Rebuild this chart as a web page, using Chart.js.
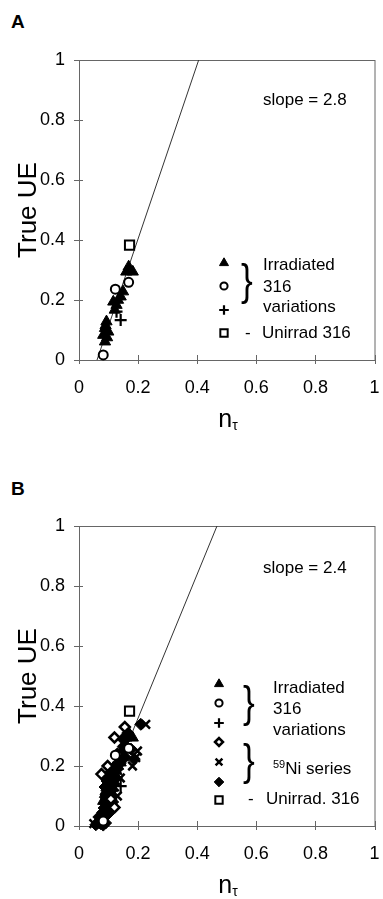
<!DOCTYPE html>
<html>
<head>
<meta charset="utf-8">
<script src="https://cdn.jsdelivr.net/npm/chart.js@4"></script>
<style>
body { margin: 0; background: #fff; font-family: "Liberation Sans", Arial, sans-serif; color: #000; }
#page { position: relative; width: 383px; height: 899px; overflow: hidden; }
canvas { position: absolute; left: 0; }
.t { position: absolute; white-space: nowrap; font-size: 17px; line-height: 17px; }
.lab { position: absolute; font-weight: bold; font-size: 19px; line-height: 19px; }
.brace { position: absolute; font-size: 44px; line-height: 44px; transform: scaleX(0.8); transform-origin: left top; }
.nt { position: absolute; width: 100px; text-align: center; font-size: 25px; line-height: 25px; }
.nt sub { font-size: 14px; vertical-align: -3px; }
sup { font-size: 11px; vertical-align: 6px; }
</style>
</head>
<body>
<div id="page">
  <div class="lab" style="left:11px; top:12px;">A</div>
  <canvas id="chartA" width="383" height="433" style="top:0;"></canvas>
  <div class="t" style="left:263px; top:91px;">slope = 2.8</div>
  <div class="brace" style="left:241px; top:258px;">}</div>
  <div class="t" style="left:263px; top:256px;">Irradiated</div>
  <div class="t" style="left:263px; top:278px;">316</div>
  <div class="t" style="left:263px; top:298px;">variations</div>
  <div class="t" style="left:245px; top:324px;">-</div>
  <div class="t" style="left:262px; top:324px;">Unirrad 316</div>
  <div class="nt" style="left:178px; top:406px;">n<sub>τ</sub></div>

  <div class="lab" style="left:11px; top:479px;">B</div>
  <canvas id="chartB" width="383" height="433" style="top:466px;"></canvas>
  <div class="t" style="left:263px; top:559px;">slope = 2.4</div>
  <div class="brace" style="left:243px; top:680px;">}</div>
  <div class="brace" style="left:243px; top:738px;">}</div>
  <div class="t" style="left:273px; top:679px;">Irradiated</div>
  <div class="t" style="left:273px; top:700px;">316</div>
  <div class="t" style="left:273px; top:721px;">variations</div>
  <div class="t" style="left:273px; top:756px;"><sup>59</sup>Ni series</div>
  <div class="t" style="left:248px; top:790px;">-</div>
  <div class="t" style="left:266px; top:790px;">Unirrad. 316</div>
  <div class="nt" style="left:178px; top:872px;">n<sub>τ</sub></div>
</div>
<script>
// axis ticks (both panels)
const tickValues = [0, 0.2, 0.4, 0.6, 0.8, 1];
const tickLabels = ['0', '0.2', '0.4', '0.6', '0.8', '1'];

// irradiated 316 variations + unirradiated 316 (n_tau, true UE)
const triX = [0.168, 0.182, 0.160, 0.149, 0.141, 0.132, 0.116, 0.127, 0.121, 0.093, 0.090, 0.088, 0.099, 0.095, 0.082, 0.088];
const triY = [0.311, 0.294, 0.294, 0.228, 0.211, 0.200, 0.194, 0.183, 0.167, 0.128, 0.115, 0.106, 0.094, 0.075, 0.083, 0.061];
const circX = [0.168, 0.123, 0.082];
const circY = [0.259, 0.236, 0.017];
const plusX = [0.141, 0.127];
const plusY = [0.133, 0.161];
const unirrX = [0.171];
const unirrY = [0.383];

// 59Ni series (panel B only)
const niOpenX = [0.155, 0.120, 0.076, 0.120, 0.108, 0.130, 0.097, 0.078];
const niOpenY = [0.330, 0.295, 0.173, 0.062, 0.090, 0.240, 0.200, 0.020];
const niCrossX = [0.226, 0.198, 0.192, 0.181, 0.160, 0.140, 0.120, 0.050, 0.065, 0.080, 0.105, 0.130];
const niCrossY = [0.339, 0.250, 0.228, 0.200, 0.280, 0.160, 0.130, 0.008, 0.005, 0.010, 0.060, 0.100];
const niFillX = [0.209, 0.187, 0.176, 0.165, 0.158, 0.150, 0.143, 0.135, 0.128, 0.122, 0.116, 0.110, 0.104, 0.100, 0.096, 0.092, 0.088, 0.085, 0.080, 0.075, 0.070, 0.063, 0.057, 0.090, 0.082, 0.112, 0.118, 0.105, 0.125, 0.095, 0.100, 0.108, 0.130, 0.140, 0.155, 0.088, 0.093, 0.103, 0.114, 0.073, 0.067, 0.098, 0.148];
const niFillY = [0.339, 0.223, 0.256, 0.310, 0.290, 0.265, 0.245, 0.225, 0.205, 0.185, 0.165, 0.150, 0.135, 0.120, 0.105, 0.090, 0.075, 0.060, 0.045, 0.030, 0.018, 0.010, 0.004, 0.010, 0.003, 0.120, 0.140, 0.100, 0.160, 0.150, 0.170, 0.180, 0.190, 0.210, 0.230, 0.130, 0.160, 0.060, 0.080, 0.008, 0.030, 0.040, 0.290];

// fitted lines, end points
const fitAX = [0.061, 0.405];
const fitAY = [0, 1];
const fitBX = [0.050, 0.467];
const fitBY = [0, 1];

const FONT = '"Liberation Sans", Arial, sans-serif';

function pts(xs, ys) {
  return xs.map((x, i) => ({x: x, y: ys[i]}));
}

const styles = {
  square:  {pointStyle: 'rect', pointRadius: 6.5, backgroundColor: '#fff', borderColor: '#000', borderWidth: 2},
  circle:  {pointStyle: 'circle', pointRadius: 4.5, backgroundColor: '#fff', borderColor: '#000', borderWidth: 2},
  diamond: {pointStyle: 'rectRot', pointRadius: 5, backgroundColor: '#fff', borderColor: '#000', borderWidth: 2.5},
  plus:    {pointStyle: 'cross', pointRadius: 6, backgroundColor: '#000', borderColor: '#000', borderWidth: 2.2},
  cross:   {pointStyle: 'crossRot', pointRadius: 6, backgroundColor: '#000', borderColor: '#000', borderWidth: 2.5},
  tri:     {pointStyle: 'triangle', pointRadius: 6.5, backgroundColor: '#000', borderColor: '#000', borderWidth: 1},
  fill:    {pointStyle: 'rectRot', pointRadius: 6, backgroundColor: '#000', borderColor: '#000', borderWidth: 1}
};

function markerSet(label, style, data) {
  return Object.assign({label: label, data: data, clip: false, pointHoverRadius: 0}, styles[style]);
}

function fitSet(xs, ys) {
  return {label: 'fit', data: pts(xs, ys), showLine: true, borderColor: '#333', borderWidth: 1,
          pointRadius: 0, order: 10};
}

// frame around the plot area and crossing tick marks
const framePlugin = {
  id: 'frame',
  beforeDatasetsDraw(chart) {
    const ctx = chart.ctx, a = chart.chartArea;
    const x = chart.scales.x, y = chart.scales.y;
    ctx.save();
    ctx.strokeStyle = '#666';
    ctx.lineWidth = 1;
    ctx.strokeRect(a.left + 0.5, a.top + 0.5, a.right - a.left, a.bottom - a.top);
    ctx.beginPath();
    tickValues.forEach(v => {
      const px = Math.round(x.getPixelForValue(v)) + 0.5;
      ctx.moveTo(px, a.bottom - 5);
      ctx.lineTo(px, a.bottom + 4);
      const py = Math.round(y.getPixelForValue(v)) + 0.5;
      ctx.moveTo(a.left - 5, py);
      ctx.lineTo(a.left + 4, py);
    });
    ctx.stroke();
    ctx.restore();
  }
};

// legend symbols next to the html legend text
const keyPlugin = {
  id: 'keyMarks',
  afterDraw(chart, args, opts) {
    const ctx = chart.ctx;
    (opts.items || []).forEach(it => {
      const s = styles[it.style];
      ctx.save();
      ctx.fillStyle = s.backgroundColor;
      ctx.strokeStyle = s.borderColor;
      ctx.lineWidth = s.borderWidth;
      Chart.helpers.drawPoint(ctx, {pointStyle: s.pointStyle, radius: s.pointRadius * 0.8,
                                    borderWidth: s.borderWidth, rotation: 0}, it.x, it.y);
      ctx.restore();
    });
  }
};

function makeChart(id, datasets, keyItems) {
  return new Chart(document.getElementById(id).getContext('2d'), {
    type: 'scatter',
    data: {datasets: datasets},
    plugins: [framePlugin, keyPlugin],
    options: {
      responsive: false,
      animation: false,
      layout: {padding: {top: 60, right: 0, left: 0, bottom: 0}},
      plugins: {
        legend: {display: false},
        tooltip: {enabled: false},
        keyMarks: {items: keyItems}
      },
      scales: {
        x: {
          type: 'linear', min: 0, max: 1,
          grid: {display: false, drawTicks: false},
          border: {display: false},
          afterBuildTicks: s => { s.ticks = tickValues.map(v => ({value: v})); },
          afterFit: s => { s.height = 73; s.paddingLeft = 0; s.paddingRight = 0; },
          ticks: {callback: (v, i) => tickLabels[i], padding: 17, maxRotation: 0,
                  color: '#000', font: {family: FONT, size: 18}}
        },
        y: {
          type: 'linear', min: 0, max: 1,
          grid: {display: false, drawTicks: false},
          border: {display: false},
          afterBuildTicks: s => { s.ticks = tickValues.map(v => ({value: v})); },
          afterFit: s => { s.width = 79; s.paddingTop = 0; s.paddingBottom = 0; },
          ticks: {callback: (v, i) => tickLabels[i], padding: 14,
                  color: '#000', font: {family: FONT, size: 18}},
          title: {display: true, text: 'True UE', color: '#000',
                  font: {family: FONT, size: 26}, padding: {top: 13, bottom: 0}}
        }
      }
    }
  });
}

makeChart('chartA', [
  markerSet('Unirrad 316', 'square', pts(unirrX, unirrY)),
  markerSet('316 circle', 'circle', pts(circX, circY)),
  markerSet('316 plus', 'plus', pts(plusX, plusY)),
  markerSet('Irradiated 316', 'tri', pts(triX, triY)),
  fitSet(fitAX, fitAY)
], [
  {style: 'tri', x: 224, y: 263},
  {style: 'circle', x: 224, y: 286},
  {style: 'plus', x: 224, y: 310},
  {style: 'square', x: 224, y: 333}
]);

makeChart('chartB', [
  markerSet('Unirrad. 316', 'square', pts(unirrX, unirrY)),
  markerSet('316 circle', 'circle', pts(circX, circY)),
  markerSet('59Ni open', 'diamond', pts(niOpenX, niOpenY)),
  markerSet('316 plus', 'plus', pts(plusX, plusY)),
  markerSet('59Ni cross', 'cross', pts(niCrossX, niCrossY)),
  markerSet('Irradiated 316', 'tri', pts(triX, triY)),
  markerSet('59Ni filled', 'fill', pts(niFillX, niFillY)),
  fitSet(fitBX, fitBY)
], [
  {style: 'tri', x: 219, y: 684 - 466},
  {style: 'circle', x: 219, y: 703 - 466},
  {style: 'plus', x: 219, y: 723 - 466},
  {style: 'diamond', x: 219, y: 742 - 466},
  {style: 'cross', x: 219, y: 762 - 466},
  {style: 'fill', x: 219, y: 782 - 466},
  {style: 'square', x: 219, y: 800 - 466}
]);
</script>
</body>
</html>
